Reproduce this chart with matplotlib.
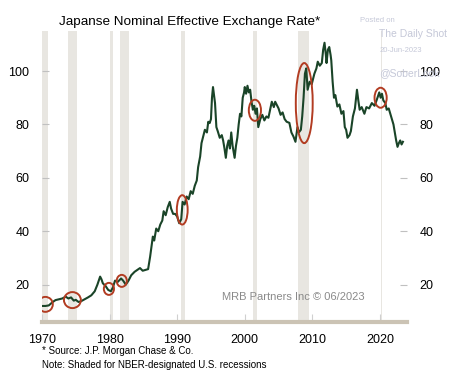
import matplotlib.pyplot as plt
from matplotlib.patches import Ellipse
import numpy as np

plt.rcParams['font.family'] = ['Liberation Sans', 'DejaVu Sans']

# Japan nominal effective exchange rate
years = [1970.0, 1970.5, 1971.0, 1971.6, 1972.0, 1972.5, 1973.0, 1973.5, 1973.9, 1974.3,
         1974.7, 1975.0, 1975.4, 1975.8, 1976.3, 1976.8, 1977.3, 1977.8, 1978.2, 1978.6,
         1978.8, 1979.0, 1979.4, 1979.8, 1980.2, 1980.5, 1980.8, 1981.2, 1981.7, 1982.0,
         1982.4, 1982.8, 1983.2, 1983.7, 1984.1, 1984.5, 1984.9, 1985.3, 1985.7, 1986.0,
         1986.4, 1986.6, 1986.9, 1987.2, 1987.5, 1987.8, 1988.0, 1988.3, 1988.6, 1988.9,
         1989.1, 1989.4, 1989.7, 1990.0, 1990.3, 1990.6, 1990.8, 1991.1, 1991.4, 1991.7,
         1992.0, 1992.3, 1992.6, 1992.9, 1993.1, 1993.4, 1993.6, 1993.9, 1994.1, 1994.4,
         1994.6, 1994.8, 1995.0, 1995.15, 1995.3, 1995.45, 1995.6, 1995.8, 1996.0, 1996.3,
         1996.6, 1996.8, 1997.0, 1997.2, 1997.4, 1997.6, 1997.8, 1998.0, 1998.2, 1998.5,
         1998.7, 1998.9, 1999.1, 1999.3, 1999.5, 1999.7, 1999.9, 2000.0, 2000.2, 2000.4,
         2000.6, 2000.8, 2001.0, 2001.2, 2001.4, 2001.6, 2001.8, 2002.0, 2002.3, 2002.6,
         2002.9, 2003.2, 2003.5, 2003.8, 2004.0, 2004.3, 2004.5, 2004.7, 2005.0, 2005.3,
         2005.6, 2005.9, 2006.2, 2006.6, 2006.9, 2007.2, 2007.5, 2007.8, 2008.0, 2008.3,
         2008.5, 2008.7, 2008.9, 2009.1, 2009.3, 2009.6, 2009.9, 2010.1, 2010.3, 2010.6,
         2010.8, 2011.1, 2011.4, 2011.6, 2011.8, 2012.0, 2012.1, 2012.3, 2012.5, 2012.7,
         2012.8, 2013.0, 2013.2, 2013.4, 2013.7, 2014.0, 2014.3, 2014.6, 2014.8, 2015.0,
         2015.2, 2015.5, 2015.7, 2016.0, 2016.3, 2016.6, 2016.8, 2017.0, 2017.3, 2017.7,
         2018.0, 2018.4, 2018.8, 2019.2, 2019.5, 2019.9, 2020.1, 2020.3, 2020.5, 2020.8,
         2021.0, 2021.3, 2021.7, 2022.0, 2022.2, 2022.4, 2022.6, 2022.8, 2023.0, 2023.2,
         2023.4]
neer = [12.0, 12.0, 12.2, 13.5, 14.2, 14.5, 14.8, 15.5, 14.8, 15.2,
        14.0, 14.3, 13.5, 13.8, 14.5, 15.2, 16.0, 17.5, 20.0, 23.0,
        22.0, 20.5, 19.5, 18.0, 17.5, 19.0, 21.5, 21.0, 22.3, 21.5,
        20.0, 21.5, 23.5, 24.8, 25.5, 26.2, 25.2, 25.5, 25.8, 30.5,
        38.0, 36.5, 41.0, 40.0, 42.5, 44.0, 47.5, 46.0, 49.0, 51.0,
        48.5, 46.5, 46.5, 45.5, 43.0, 44.5, 51.0, 50.0, 53.0, 52.0,
        55.0, 54.0, 57.0, 59.0, 64.0, 68.0, 73.0, 76.0, 78.0, 77.0,
        81.0, 80.5, 82.0, 90.0, 94.0, 91.0, 88.0, 79.0, 77.5, 75.0,
        76.0, 74.0, 71.0, 67.5, 72.0, 74.0, 71.0, 77.0, 72.0, 67.5,
        72.0, 75.0, 80.0, 84.0, 83.0, 90.0, 92.0, 94.0, 91.5, 94.5,
        92.0, 93.0, 88.5, 85.5, 87.0, 84.0, 86.0, 79.0, 82.0, 83.6,
        81.5, 83.0, 82.5, 86.0, 88.5, 86.5, 88.5, 87.5, 86.0, 83.6,
        84.5, 82.0, 81.0, 80.6, 77.0, 75.5, 73.5, 79.0, 77.0, 78.0,
        83.0, 90.0, 99.0, 101.0, 93.0, 96.0, 95.0, 97.0, 99.0, 101.0,
        103.5, 102.0, 103.0, 108.0, 110.6, 106.0, 103.0, 108.0, 109.0, 106.0,
        104.0, 96.0, 90.0, 91.0, 86.7, 87.5, 84.0, 85.0, 79.0, 78.0,
        75.0, 76.0, 77.5, 83.0, 86.0, 93.0, 89.0, 85.5, 86.5, 84.0,
        86.5, 86.0, 88.0, 87.0, 89.0, 92.0, 90.0, 91.5, 89.0, 88.0,
        85.5, 86.0, 82.5, 80.0, 77.0, 74.0, 71.6, 73.0, 74.0, 72.5,
        73.5]

# NBER recessions
rec_start = [1969.92, 1973.87, 1980.0, 1981.5, 1990.5, 2001.2, 2007.92, 2020.1]
rec_end = [1970.87, 1975.2, 1980.5, 1982.87, 1991.2, 2001.87, 2009.5, 2020.3]

# highlighted episodes: centre year, centre value, width (years), height
circ_x = [1970.5, 1974.5, 1979.9, 1981.8, 1990.75, 2001.5, 2008.8, 2020.1]
circ_y = [12.6, 14.2, 18.4, 21.4, 48.0, 85.3, 88.0, 90.0]
circ_w = [2.2, 2.5, 1.5, 1.5, 1.6, 1.8, 2.5, 1.8]
circ_h = [5.6, 6.0, 4.5, 4.5, 11.0, 7.9, 30.0, 7.5]

fig = plt.figure(figsize=(4.74, 3.91), dpi=100)
ax = fig.add_axes([0.0886, 0.1765, 0.77, 0.7442])

for s, e in zip(rec_start, rec_end):
    ax.axvspan(s, e, color='#e8e6e1', lw=0, zorder=0)

ax.plot(years, neer, color='#1a4428', lw=1.5, zorder=2)

for cx, cy, w, h in zip(circ_x, circ_y, circ_w, circ_h):
    ax.add_patch(Ellipse((cx, cy), w, h, fill=False, ec='#b23c22', lw=1.4, zorder=3))

ax.set_xlim(1970, 2024)
ax.set_ylim(6, 115)
ax.set_xticks(np.arange(1970, 2021, 10))
ax.set_yticks([20, 40, 60, 80, 100])

for side in ['top', 'left', 'right']:
    ax.spines[side].set_visible(False)
ax.spines['bottom'].set_color('#cbc3b4')
ax.spines['bottom'].set_linewidth(3)

ax.tick_params(axis='x', direction='in', length=6, color='#d0d0d0', pad=9, labelsize=9)
ax.tick_params(axis='y', direction='in', length=5, color='#c0c0c0', pad=9, labelsize=9,
               right=True, labelright=True)

fig.text(0.40, 0.945, 'Japanse Nominal Effective Exchange Rate*', ha='center', va='center', fontsize=9.7)
fig.text(0.468, 0.232, 'MRB Partners Inc \u00a9 06/2023', color='#8a8a8a', fontsize=8)
fig.text(0.089, 0.094, '* Source: J.P. Morgan Chase & Co.', fontsize=7)
fig.text(0.089, 0.060, 'Note: Shaded for NBER-designated U.S. recessions', fontsize=7)

# watermark
fig.text(0.76, 0.945, 'Posted on', color='#c5c8d8', fontsize=5.5)
fig.text(0.80, 0.905, 'The Daily Shot', color='#c5c8d8', fontsize=7.5)
fig.text(0.80, 0.866, '20-Jun-2023', color='#c5c8d8', fontsize=5.5)
fig.text(0.80, 0.805, '@SoberLook', color='#c5c8d8', fontsize=7.5)

fig.savefig('out.png', dpi=100)
